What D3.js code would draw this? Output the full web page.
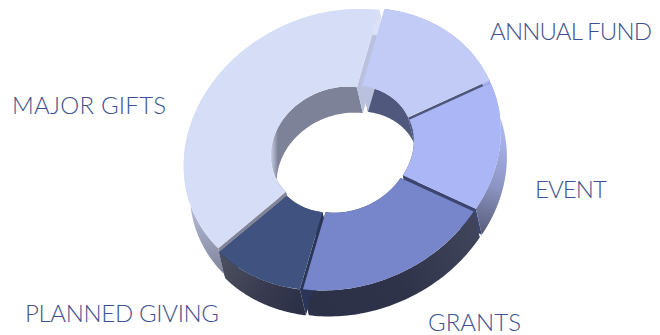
<!DOCTYPE html>
<html>
<head>
<meta charset="utf-8">
<script src="https://cdn.jsdelivr.net/npm/d3@7/dist/d3.min.js"></script>
<style>
html,body{margin:0;padding:0;background:#fff}
svg{display:block}
text{font-family:"Lato",sans-serif;font-weight:300;fill:#3f5290}
</style>
</head>
<body>
<svg id="chart" width="660" height="335"></svg>
<script>
// Campaign revenue by source, drawn as an extruded, tilted donut.
const categories = ["MAJOR GIFTS", "ANNUAL FUND", "EVENT", "GRANTS", "PLANNED GIVING"];
const shares = [40, 15, 15, 20, 10];
const topColors = ["#d6def7", "#c2cbf6", "#abb6f6", "#7786cb", "#3f5280"];
const startWalls = ["#7f8499", "#b9c1de", "#4e5679", "#3c4470", "#2b3558"];
const endWalls = ["#b9c1de", "#4e5679", "#3c4470", "#2b3558", "#252e50"];
const innerWallStops = [["#d3d9f2", "#7d8298", "#7d8298"], ["#51587d", "#51587d", "#51587d"], ["#51587d", "#51587d", "#51587d"], ["#2b3558", "#2b3558", "#2b3558"], ["#2b3558", "#2b3558", "#2b3558"]];
const outerWallStops = [["#dbe1f6", "#a7adc8", "#7e8398"], ["#a9b3ea", "#a9b3ea", "#a9b3ea"], ["#aab4ec", "#8d95c3", "#565b76"], ["#40445b", "#2f3349", "#2d3148"], ["#4b4e5d", "#393c50", "#2b2f46"]];
const labelX = [12, 490, 535, 428, 25];
const labelY = [114, 40, 198, 331, 322];
const labelWidths = [154, 162, 72, 93, 194];

const width = 660, height = 335;
const centre = [342, 149];
// Linear map from the unit circle to the tilted ellipse on the page.
const tilt = { xx: 155.5, xy: 0, yx: -18, yy: 137.6 };
const extrude = [6, 26];
const holeRatio = 0.44;
const explode = 0.022;
const startAngle = -129 * Math.PI / 180;

const svg = d3.select("#chart");
const defs = svg.append("defs");

const pie = d3.pie().sort(null).value(d => d).startAngle(startAngle).endAngle(startAngle + 2 * Math.PI);
const slices = pie(shares).map((s, i) => {
  const mid = (s.startAngle + s.endAngle) / 2;
  return {
    ...s, i, mid,
    off: [Math.sin(mid) * explode, -Math.cos(mid) * explode]
  };
});

// Project a polar position of an exploded slice to page coordinates.
function project(slice, angle, radius, depth) {
  const x = Math.sin(angle) * radius + slice.off[0];
  const y = -Math.cos(angle) * radius + slice.off[1];
  return [
    centre[0] + tilt.xx * x + tilt.xy * y + (depth ? extrude[0] : 0),
    centre[1] + tilt.yx * x + tilt.yy * y + (depth ? extrude[1] : 0)
  ];
}

const line = d3.line();

function bandPath(slice, radius) {
  const angles = d3.range(0, 61).map(k => slice.startAngle + (slice.endAngle - slice.startAngle) * k / 60);
  const near = angles.map(a => project(slice, a, radius, false));
  const far = angles.slice().reverse().map(a => project(slice, a, radius, true));
  return line(near.concat(far)) + "Z";
}

function cutPath(slice, angle) {
  return line([
    project(slice, angle, holeRatio, false),
    project(slice, angle, 1, false),
    project(slice, angle, 1, true),
    project(slice, angle, holeRatio, true)
  ]) + "Z";
}

function wallGradient(id, stops, x1, y1, x2, y2) {
  const g = defs.append("linearGradient").attr("id", id)
    .attr("gradientUnits", "userSpaceOnUse")
    .attr("x1", x1).attr("y1", y1).attr("x2", x2).attr("y2", y2);
  stops.forEach((c, k) => g.append("stop").attr("offset", k / (stops.length - 1)).attr("stop-color", c));
  return `url(#${id})`;
}

// Shading directions of the walls, running along each slice's rim.
const outerFills = slices.map((s, i) => {
  const dirs = [[188, 165, 225, 275], [480, 60, 500, 120], [503, 135, 480, 235], [470, 225, 310, 310], [225, 260, 305, 305]];
  return wallGradient("outer" + i, outerWallStops[i], ...dirs[i]);
});
const innerFills = slices.map((s, i) => {
  const dirs = [[270, 150, 286, 150], [360, 90, 410, 120], [410, 120, 410, 180], [400, 180, 320, 210], [320, 210, 280, 190]];
  return wallGradient("inner" + i, innerWallStops[i], ...dirs[i]);
});

// Painter's order: farthest slice walls first, top faces last.
const byDepth = slices.slice().sort((a, b) => project(a, a.mid, 1, false)[1] - project(b, b.mid, 1, false)[1]);

const walls = svg.append("g");
byDepth.forEach(s => {
  walls.append("path").attr("d", bandPath(s, holeRatio)).attr("fill", innerFills[s.i]);
  walls.append("path").attr("d", cutPath(s, s.startAngle)).attr("fill", startWalls[s.i]);
  walls.append("path").attr("d", cutPath(s, s.endAngle)).attr("fill", endWalls[s.i]);
  walls.append("path").attr("d", bandPath(s, 1)).attr("fill", outerFills[s.i]);
});

// Top faces: plain d3 arcs pushed through the same linear map.
const arc = d3.arc().innerRadius(holeRatio).outerRadius(1);
svg.append("g")
  .attr("transform", `matrix(${tilt.xx},${tilt.yx},${tilt.xy},${tilt.yy},${centre[0]},${centre[1]})`)
  .selectAll("path")
  .data(slices)
  .join("path")
  .attr("transform", d => `translate(${d.off[0]},${d.off[1]})`)
  .attr("d", d => arc(d))
  .attr("fill", d => topColors[d.i]);

svg.append("g").selectAll("text")
  .data(categories)
  .join("text")
  .attr("x", (d, i) => labelX[i])
  .attr("y", (d, i) => labelY[i])
  .attr("font-size", 24)
  .attr("textLength", (d, i) => labelWidths[i])
  .attr("lengthAdjust", "spacing")
  .text(d => d);
</script>
</body>
</html>
